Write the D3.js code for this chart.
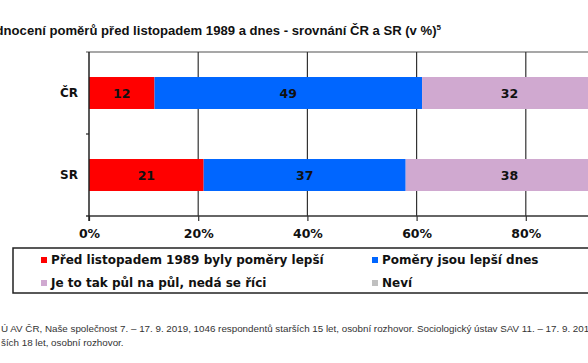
<!DOCTYPE html>
<html>
<head>
    <meta charset="utf-8">
    <title>Hodnocení poměrů</title>
    <script src="https://cdnjs.cloudflare.com/ajax/libs/d3/7.8.5/d3.min.js"></script>
    <style>
        body { margin: 0; background: #fff; }
        svg { display: block; }
        .bold { font-family: "DejaVu Sans", Verdana, sans-serif; font-weight: bold; fill: #111; }
    </style>
</head>
<body>
<script type="text/javascript">
    var width = 588, height = 363;

    var categories = ["ČR", "SR"];
    var seriesNames = ["Před listopadem 1989 byly poměry lepší", "Poměry jsou lepší dnes",
                       "Je to tak půl na půl, nedá se říci", "Neví"];
    var seriesColors = ["#ff0000", "#0066ff", "#d0a9d0", "#c0c0c0"];
    var valuesCR = [12, 49, 32, 7];
    var valuesSR = [21, 37, 38, 4];
    var tickValues = [0, 20, 40, 60, 80, 100];

    var svg = d3.select("body").append("svg")
        .attr("width", width)
        .attr("height", height);

    // title is cut off on the left in the original, so anchor it at its end
    svg.append("text")
        .attr("x", 441)
        .attr("y", 35)
        .attr("text-anchor", "end")
        .style("font-family", "Liberation Sans, Arial, sans-serif")
        .style("font-weight", "bold")
        .style("font-size", "13.1px")
        .style("fill", "#111")
        .text("Hodnocení poměrů před listopadem 1989 a dnes - srovnání ČR a SR (v %)")
        .append("tspan")
        .attr("dy", -5)
        .style("font-size", "8px")
        .text("5");

    var xScale = d3.scaleLinear()
        .domain([0, 100])
        .range([89, 635]);

    var yScale = d3.scaleBand()
        .domain(categories)
        .range([52, 216])
        .paddingInner(0.61)
        .paddingOuter(0.305);

    var rows = categories.map(function (c, i) {
        var vals = i === 0 ? valuesCR : valuesSR;
        var start = 0;
        return vals.map(function (v, k) {
            var seg = { cat: c, k: k, x0: start, x1: start + v, v: v };
            start += v;
            return seg;
        });
    });

    // plot frame top line
    svg.append("line")
        .attr("x1", 86).attr("x2", width)
        .attr("y1", 52).attr("y2", 52)
        .style("stroke", "#8a8a8a").style("stroke-width", 1.5);

    // vertical grid lines
    svg.append("g").selectAll("line")
        .data(tickValues.slice(1))
        .enter().append("line")
        .attr("x1", function (d) { return xScale(d); })
        .attr("x2", function (d) { return xScale(d); })
        .attr("y1", 52).attr("y2", 216)
        .style("stroke", "#333").style("stroke-width", 1.2);

    // bars
    var segs = [].concat.apply([], rows);
    svg.append("g").selectAll("rect")
        .data(segs)
        .enter().append("rect")
        .attr("x", function (d) { return xScale(d.x0); })
        .attr("width", function (d) { return xScale(d.x1) - xScale(d.x0); })
        .attr("y", function (d) { return yScale(d.cat); })
        .attr("height", yScale.bandwidth())
        .style("fill", function (d) { return seriesColors[d.k]; });

    svg.append("g").selectAll("text")
        .data(segs)
        .enter().append("text")
        .attr("class", "bold")
        .attr("x", function (d) { return (xScale(d.x0) + xScale(d.x1)) / 2; })
        .attr("y", function (d) { return yScale(d.cat) + yScale.bandwidth() / 2; })
        .attr("dy", "0.36em")
        .attr("text-anchor", "middle")
        .style("font-size", "12.5px")
        .text(function (d) { return d.v; });

    // x axis
    var xAxis = d3.axisBottom(xScale)
        .tickValues(tickValues)
        .tickSize(5)
        .tickPadding(8)
        .tickFormat(function (d) { return d + "%"; });

    var gx = svg.append("g")
        .attr("transform", "translate(0,216)")
        .call(xAxis);
    gx.select(".domain").remove();
    gx.selectAll(".tick line").style("stroke", "#333").style("stroke-width", 1.2);
    gx.selectAll(".tick text")
        .attr("class", "bold")
        .style("font-size", "12.5px");
    svg.append("line")
        .attr("x1", 86).attr("x2", width)
        .attr("y1", 216).attr("y2", 216)
        .style("stroke", "#333").style("stroke-width", 1.5);

    // y axis
    svg.append("line")
        .attr("x1", 89).attr("x2", 89)
        .attr("y1", 52).attr("y2", 221)
        .style("stroke", "#222").style("stroke-width", 1.5);
    svg.append("line")
        .attr("x1", 86).attr("x2", 89)
        .attr("y1", 134).attr("y2", 134)
        .style("stroke", "#222").style("stroke-width", 1.2);

    svg.append("g").selectAll("text")
        .data(categories)
        .enter().append("text")
        .attr("class", "bold")
        .attr("x", 78)
        .attr("y", function (d) { return yScale(d) + yScale.bandwidth() / 2; })
        .attr("dy", "0.36em")
        .attr("text-anchor", "end")
        .style("font-size", "12px")
        .text(function (d) { return d; });

    // legend
    svg.append("rect")
        .attr("x", 13).attr("y", 248)
        .attr("width", 600).attr("height", 45)
        .style("fill", "none")
        .style("stroke", "#222").style("stroke-width", 1.5);

    var legendPos = [[41, 260], [372, 260], [41, 283], [372, 283]];
    var lg = svg.append("g").selectAll("g")
        .data(seriesNames)
        .enter().append("g")
        .attr("transform", function (d, i) { return "translate(" + legendPos[i][0] + "," + legendPos[i][1] + ")"; });
    lg.append("rect")
        .attr("x", 0).attr("y", -3)
        .attr("width", 6).attr("height", 6)
        .style("fill", function (d, i) { return seriesColors[i]; });
    lg.append("text")
        .attr("class", "bold")
        .attr("x", 10)
        .attr("dy", "0.36em")
        .style("font-size", "12px")
        .text(function (d) { return d; });

    // source note
    var note = svg.append("g")
        .style("font-family", "Liberation Sans, Arial, sans-serif")
        .style("font-size", "9.8px")
        .style("fill", "#333");
    note.append("text")
        .attr("x", 1).attr("y", 332)
        .text("Ú AV ČR, Naše společnost 7. – 17. 9. 2019, 1046 respondentů starších 15 let, osobní rozhovor. Sociologický ústav SAV 11. – 17. 9. 2019");
    note.append("text")
        .attr("x", 1).attr("y", 346)
        .text("ších 18 let, osobní rozhovor.");
</script>
</body>
</html>
